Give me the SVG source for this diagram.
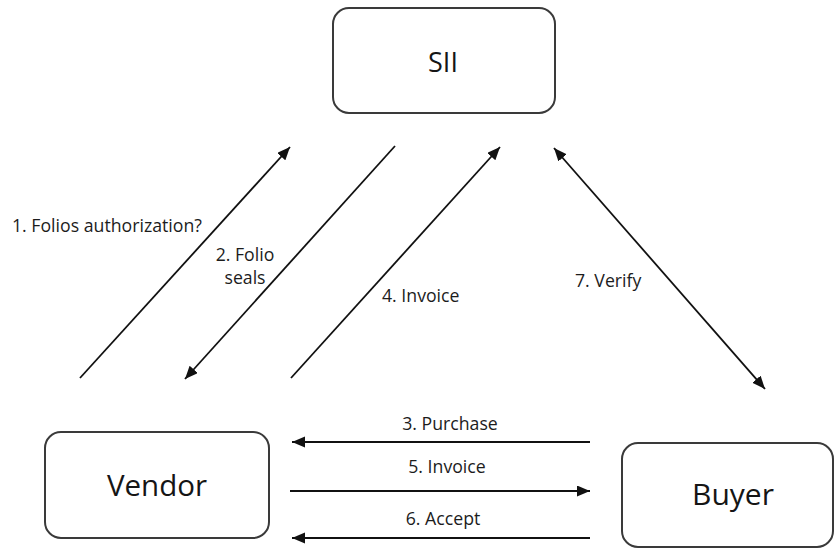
<svg xmlns="http://www.w3.org/2000/svg" width="835" height="548" viewBox="0 0 835 548">
<style>
.box{fill:#fff;stroke:#3a3a3a;stroke-width:2}
.big{font-family:"Open Sans","Liberation Sans",sans-serif;fill:#151515;text-anchor:middle}
.lbl{font-family:"Open Sans","Liberation Sans",sans-serif;font-size:17.7px;fill:#1c1c1c}
.c{stroke:#111;stroke-width:1.8;fill:none;marker-end:url(#ah)}
</style>
<defs>
<marker id="ah" markerUnits="userSpaceOnUse" markerWidth="14" markerHeight="12" refX="13" refY="5.5" orient="auto-start-reverse">
<path d="M0,0 L13,5.5 L0,11 z" fill="#111"/>
</marker>
</defs>
<rect width="835" height="548" fill="#fff"/>
<g id="sii"><rect class="box" x="333" y="8" width="222" height="105" rx="16"/><text class="big" x="443" y="72" font-size="27">SII</text></g>
<g id="vendor"><rect class="box" x="45" y="432" width="224" height="106" rx="16"/><text class="big" x="157" y="496" font-size="29.5">Vendor</text></g>
<g id="buyer"><rect class="box" x="622" y="443" width="211" height="104" rx="16"/><text class="big" x="733" y="505" font-size="30">Buyer</text></g>
<g id="connectors">
<line class="c" x1="80" y1="378" x2="290" y2="147"/>
<line class="c" x1="395" y1="146" x2="185" y2="379"/>
<line class="c" x1="291" y1="378" x2="500" y2="147"/>
<line class="c" x1="554" y1="148" x2="765" y2="389" marker-start="url(#ah)"/>
<line class="c" x1="590" y1="442" x2="292" y2="442"/>
<line class="c" x1="290" y1="491" x2="590" y2="491"/>
<line class="c" x1="590" y1="538" x2="292" y2="538"/>
</g>
<g id="labels">
<text class="lbl" x="12" y="232">1. Folios authorization?</text>
<text class="lbl" x="245" y="261" text-anchor="middle">2. Folio</text>
<text class="lbl" x="245" y="284" text-anchor="middle">seals</text>
<text class="lbl" x="382" y="302">4. Invoice</text>
<text class="lbl" x="575" y="287">7. Verify</text>
<text class="lbl" x="450" y="430" text-anchor="middle">3. Purchase</text>
<text class="lbl" x="447" y="473" text-anchor="middle">5. Invoice</text>
<text class="lbl" x="443" y="525" text-anchor="middle">6. Accept</text>
</g>
</svg>
